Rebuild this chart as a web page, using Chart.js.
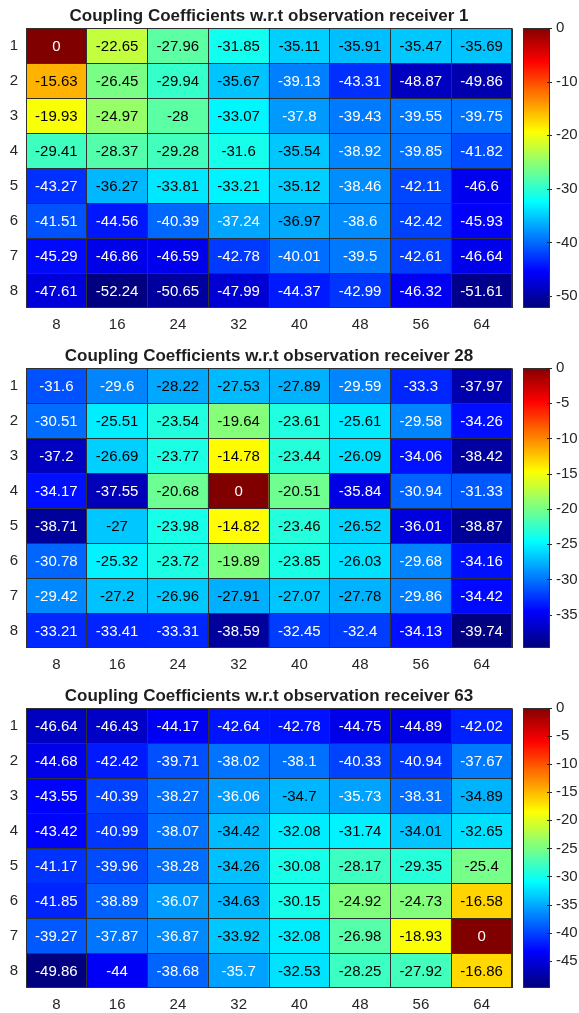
<!DOCTYPE html>
<html>
<head>
<meta charset="utf-8">
<script src="https://cdn.jsdelivr.net/npm/chart.js@4.4.0/dist/chart.umd.min.js"></script>
<style>
  html, body { margin: 0; padding: 0; background: #fff; width: 579px; height: 1013px; overflow: hidden; }
  .panel { position: absolute; left: 0; width: 579px; height: 340px; }
  .panel canvas { position: absolute; top: 0; }
</style>
</head>
<body>
<div class="panel" style="top:0px"><canvas id="map1" width="520" height="340" style="left:0"></canvas><canvas id="bar1" width="64" height="340" style="left:515px"></canvas></div>
<div class="panel" style="top:340px"><canvas id="map2" width="520" height="340" style="left:0"></canvas><canvas id="bar2" width="64" height="340" style="left:515px"></canvas></div>
<div class="panel" style="top:680px"><canvas id="map3" width="520" height="340" style="left:0"></canvas><canvas id="bar3" width="64" height="340" style="left:515px"></canvas></div>
<script>
var colLabels = ['8', '16', '24', '32', '40', '48', '56', '64'];
var rowLabels = ['1', '2', '3', '4', '5', '6', '7', '8'];

// coupling coefficients, one row per receiver row 1..8
var receiver1 = [
  [0, -22.65, -27.96, -31.85, -35.11, -35.91, -35.47, -35.69],
  [-15.63, -26.45, -29.94, -35.67, -39.13, -43.31, -48.87, -49.86],
  [-19.93, -24.97, -28, -33.07, -37.8, -39.43, -39.55, -39.75],
  [-29.41, -28.37, -29.28, -31.6, -35.54, -38.92, -39.85, -41.82],
  [-43.27, -36.27, -33.81, -33.21, -35.12, -38.46, -42.11, -46.6],
  [-41.51, -44.56, -40.39, -37.24, -36.97, -38.6, -42.42, -45.93],
  [-45.29, -46.86, -46.59, -42.78, -40.01, -39.5, -42.61, -46.64],
  [-47.61, -52.24, -50.65, -47.99, -44.37, -42.99, -46.32, -51.61]
];
var receiver28 = [
  [-31.6, -29.6, -28.22, -27.53, -27.89, -29.59, -33.3, -37.97],
  [-30.51, -25.51, -23.54, -19.64, -23.61, -25.61, -29.58, -34.26],
  [-37.2, -26.69, -23.77, -14.78, -23.44, -26.09, -34.06, -38.42],
  [-34.17, -37.55, -20.68, 0, -20.51, -35.84, -30.94, -31.33],
  [-38.71, -27, -23.98, -14.82, -23.46, -26.52, -36.01, -38.87],
  [-30.78, -25.32, -23.72, -19.89, -23.85, -26.03, -29.68, -34.16],
  [-29.42, -27.2, -26.96, -27.91, -27.07, -27.78, -29.86, -34.42],
  [-33.21, -33.41, -33.31, -38.59, -32.45, -32.4, -34.13, -39.74]
];
var receiver63 = [
  [-46.64, -46.43, -44.17, -42.64, -42.78, -44.75, -44.89, -42.02],
  [-44.68, -42.42, -39.71, -38.02, -38.1, -40.33, -40.94, -37.67],
  [-43.55, -40.39, -38.27, -36.06, -34.7, -35.73, -38.31, -34.89],
  [-43.42, -40.99, -38.07, -34.42, -32.08, -31.74, -34.01, -32.65],
  [-41.17, -39.96, -38.28, -34.26, -30.08, -28.17, -29.35, -25.4],
  [-41.85, -38.89, -36.07, -34.63, -30.15, -24.92, -24.73, -16.58],
  [-39.27, -37.87, -36.87, -33.92, -32.08, -26.98, -18.93, 0],
  [-49.86, -44, -38.68, -35.7, -32.53, -28.25, -27.92, -16.86]
];
var colorbarSteps = { receiver1: 10, receiver28: 5, receiver63: 5 };

var FONT = "'Liberation Sans', Arial, Helvetica, sans-serif";
var TEXT = '#262626';
var GRID = '#303030';

// matlab style jet colormap
var jet = function(t) {
  t = Math.max(0, Math.min(1, t));
  var c = function(x) { return Math.round(255 * Math.max(0, Math.min(1, 1.5 - Math.abs(x)))); };
  return [c(4 * t - 3), c(4 * t - 2), c(4 * t - 1)];
};
var rgb = function(a) { return 'rgb(' + a.join(',') + ')'; };

var framePlugin = {
  id: 'frame',
  afterDraw: function(chart) {
    var a = chart.chartArea, ctx = chart.ctx;
    ctx.save();
    ctx.strokeStyle = GRID;
    ctx.lineWidth = 1;
    ctx.strokeRect(Math.round(a.left) + 0.5, Math.round(a.top) + 0.5,
                   Math.round(a.right - a.left) - 1, Math.round(a.bottom - a.top) - 1);
    ctx.restore();
  }
};

var cellLabels = function(values, lo, hi) {
  return {
    id: 'cellLabels',
    afterDraw: function(chart) {
      var ctx = chart.ctx;
      ctx.save();
      ctx.font = '15px ' + FONT;
      ctx.textAlign = 'center';
      ctx.textBaseline = 'middle';
      values.forEach(function(row, i) {
        chart.getDatasetMeta(i).data.forEach(function(bar, j) {
          var c = jet((row[j] - lo) / (hi - lo));
          var lum = (0.299 * c[0] + 0.587 * c[1] + 0.114 * c[2]) / 255;
          ctx.fillStyle = lum < 0.5 ? '#ffffff' : '#000000';
          ctx.fillText(String(row[j]), bar.x, (bar.y + bar.base) / 2 + 1);
        });
      });
      ctx.restore();
    }
  };
};

var colorbarTicks = {
  id: 'colorbarTicks',
  afterDraw: function(chart) {
    var y = chart.scales.y, a = chart.chartArea, ctx = chart.ctx;
    ctx.save();
    ctx.strokeStyle = TEXT;
    ctx.lineWidth = 1;
    y.ticks.forEach(function(t) {
      var p = Math.round(y.getPixelForValue(t.value)) + 0.5;
      ctx.beginPath();
      ctx.moveTo(a.right - 3, p);
      ctx.lineTo(a.right + 2, p);
      ctx.stroke();
    });
    ctx.restore();
  }
};

var drawHeatmap = function(id, title, values) {
  var all = [].concat.apply([], values);
  var lo = Math.min.apply(null, all), hi = Math.max.apply(null, all);

  var datasets = values.map(function(row, i) {
    return {
      label: rowLabels[i],
      data: row.map(function() { return 1; }),
      backgroundColor: row.map(function(v) { return rgb(jet((v - lo) / (hi - lo))); }),
      borderWidth: 0,
      barPercentage: 1,
      categoryPercentage: 1
    };
  });

  new Chart(document.getElementById(id), {
    type: 'bar',
    data: { labels: colLabels, datasets: datasets },
    options: {
      responsive: false,
      animation: false,
      events: [],
      layout: { padding: { left: 0, right: 8, top: 0, bottom: 0 } },
      plugins: {
        legend: { display: false },
        tooltip: { enabled: false },
        title: {
          display: true,
          text: title,
          fullSize: false,
          color: '#1e1e1e',
          font: { family: FONT, size: 17, weight: 'bold' },
          padding: { top: 6, bottom: 2 }
        }
      },
      scales: {
        x: {
          stacked: true,
          grid: { offset: true, color: GRID, z: 1, drawTicks: false },
          border: { display: false },
          ticks: { color: TEXT, font: { family: FONT, size: 15 }, padding: 8, maxRotation: 0 },
          afterFit: function(s) { s.height = 32; }
        },
        y: {
          type: 'linear',
          stacked: true,
          min: 0,
          max: rowLabels.length,
          reverse: true,
          grid: { offset: true, color: GRID, z: 1, drawTicks: false },
          border: { display: false },
          ticks: {
            color: TEXT,
            font: { family: FONT, size: 15 },
            padding: 8,
            callback: function(v, i) { return rowLabels[i]; }
          },
          afterBuildTicks: function(s) {
            s.ticks = rowLabels.map(function(l, i) { return { value: i + 0.5 }; });
          },
          afterFit: function(s) { s.width = 26; }
        }
      }
    },
    plugins: [cellLabels(values, lo, hi), framePlugin]
  });
  return [lo, hi];
};

var drawColorbar = function(id, lo, hi, step) {
  var n = 128, span = hi - lo, sets = [];
  for (var k = 0; k < n; k++) {
    var a = lo + span * k / n;
    var b = Math.min(hi, lo + span * (k + 1.5) / n);
    sets.push({
      data: [[a, b]],
      backgroundColor: rgb(jet((k + 0.5) / n)),
      borderWidth: 0,
      grouped: false,
      barPercentage: 1,
      categoryPercentage: 1
    });
  }

  new Chart(document.getElementById(id), {
    type: 'bar',
    data: { labels: [''], datasets: sets },
    options: {
      responsive: false,
      animation: false,
      events: [],
      layout: { padding: { left: 8, right: 0, top: 28, bottom: 32 } },
      plugins: { legend: { display: false }, tooltip: { enabled: false } },
      scales: {
        x: { display: false },
        y: {
          position: 'right',
          min: lo,
          max: hi,
          grid: { display: false, drawTicks: false },
          border: { display: false },
          ticks: {
            color: TEXT,
            font: { family: FONT, size: 15 },
            padding: 6,
            callback: function(v) { return String(v); }
          },
          afterBuildTicks: function(s) {
            var t = [];
            for (var v = Math.ceil(hi / step) * step; v >= lo; v -= step) t.push({ value: v === 0 ? 0 : v });
            s.ticks = t;
          },
          afterFit: function(s) { s.width = 29; }
        }
      }
    },
    plugins: [framePlugin, colorbarTicks]
  });
};

var r1 = drawHeatmap('map1', 'Coupling Coefficients w.r.t observation receiver 1', receiver1);
drawColorbar('bar1', r1[0], r1[1], colorbarSteps.receiver1);
var r2 = drawHeatmap('map2', 'Coupling Coefficients w.r.t observation receiver 28', receiver28);
drawColorbar('bar2', r2[0], r2[1], colorbarSteps.receiver28);
var r3 = drawHeatmap('map3', 'Coupling Coefficients w.r.t observation receiver 63', receiver63);
drawColorbar('bar3', r3[0], r3[1], colorbarSteps.receiver63);
</script>
</body>
</html>
